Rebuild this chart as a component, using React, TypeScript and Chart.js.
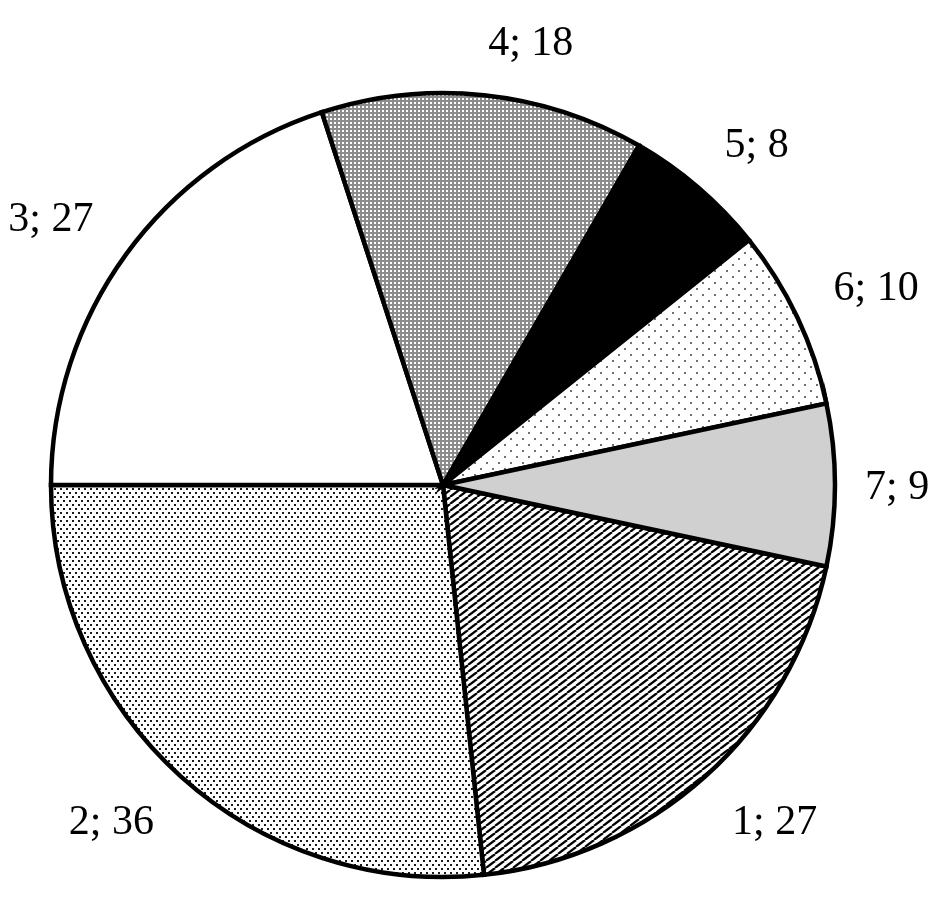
import React, { useEffect, useRef } from "react";
import { Chart, registerables } from "chart.js";

Chart.register(...registerables);

const categories = ["1", "2", "3", "4", "5", "6", "7"];
const values = [27, 36, 27, 18, 8, 10, 9];
const fillKinds = ["hatch", "fineDots", "white", "grid", "black", "sparseDots", "lightGray"];

function makeTile(w: number, h: number, draw: (c: CanvasRenderingContext2D) => void) {
  const cv = document.createElement("canvas");
  cv.width = w;
  cv.height = h;
  const c = cv.getContext("2d")!;
  c.fillStyle = "#ffffff";
  c.fillRect(0, 0, w, h);
  draw(c);
  return c.createPattern(cv, "repeat")!;
}

function makeFill(kind: string): string | CanvasPattern {
  switch (kind) {
    case "hatch":
      return makeTile(9, 7, (c) => {
        c.strokeStyle = "#000000";
        c.lineWidth = 2.2;
        for (let k = -1; k <= 1; k++) {
          c.beginPath();
          c.moveTo(k * 9, 7);
          c.lineTo(k * 9 + 9, 0);
          c.stroke();
        }
      });
    case "fineDots":
      return makeTile(6, 8, (c) => {
        c.fillStyle = "#1a1a1a";
        c.fillRect(0, 0, 2, 2);
        c.fillRect(3, 4, 2, 2);
      });
    case "grid":
      return makeTile(4, 4, (c) => {
        c.fillStyle = "#8c8c8c";
        c.fillRect(0, 0, 4, 2);
        c.fillRect(0, 0, 2, 4);
      });
    case "sparseDots":
      return makeTile(12, 12, (c) => {
        c.fillStyle = "#707070";
        c.fillRect(0, 0, 2, 2);
        c.fillRect(6, 6, 2, 2);
      });
    case "black":
      return "#000000";
    case "lightGray":
      return "#d0d0d0";
    default:
      return "#ffffff";
  }
}

function side(d: number) {
  return Math.abs(d) < 0.02 ? 0 : Math.sign(d);
}

const labelPlugin = {
  id: "outsideLabels",
  afterDraw(chart: any) {
    const ctx = chart.ctx as CanvasRenderingContext2D;
    const meta = chart.getDatasetMeta(0);
    const data = chart.data.datasets[0].data as number[];
    const labels = chart.data.labels as string[];
    ctx.save();
    ctx.font = '42px "Liberation Serif", "Times New Roman", serif';
    ctx.fillStyle = "#000000";
    ctx.textBaseline = "alphabetic";
    ctx.textAlign = "left";
    meta.data.forEach((arc: any, i: number) => {
      const p = arc.getProps(["x", "y", "startAngle", "endAngle", "outerRadius"], true);
      const mid = (p.startAngle + p.endAngle) / 2;
      const dx = Math.cos(mid);
      const dy = Math.sin(mid);
      const sx = side(dx);
      const sy = side(dy);
      // labels sitting square to the side hug the pie a little closer
      const dist = p.outerRadius + (sy === 0 ? 30 : 40);
      const px = p.x + dx * dist;
      const py = p.y + dy * dist;
      const text = `${labels[i]}; ${data[i]}`;
      const m = ctx.measureText(text);
      const w = m.width;
      const h = m.actualBoundingBoxAscent;
      const bcx = px + (sx * w) / 2;
      const bcy = py + (sy * h) / 2;
      ctx.fillText(text, bcx - w / 2, bcy + h / 2);
    });
    ctx.restore();
  },
};

export default function App() {
  const ref = useRef<HTMLCanvasElement | null>(null);
  useEffect(() => {
    if (!ref.current) return;
    const chart = new Chart(ref.current, {
      type: "pie",
      data: {
        labels: categories,
        datasets: [
          {
            data: values,
            backgroundColor: fillKinds.map(makeFill) as any,
            borderColor: "#000000",
            borderWidth: 4.5,
            borderJoinStyle: "miter",
          } as any,
        ],
      },
      options: {
        animation: false,
        responsive: false,
        rotation: 102,
        radius: 392,
        layout: { padding: { left: 0, right: 51, top: 61, bottom: 0 } },
        plugins: {
          legend: { display: false },
          tooltip: { enabled: false },
        },
      } as any,
      plugins: [labelPlugin],
    });
    return () => chart.destroy();
  }, []);
  return (
    <canvas
      ref={ref}
      width={937}
      height={909}
      style={{ display: "block", position: "absolute", left: 0, top: 0 }}
    />
  );
}
